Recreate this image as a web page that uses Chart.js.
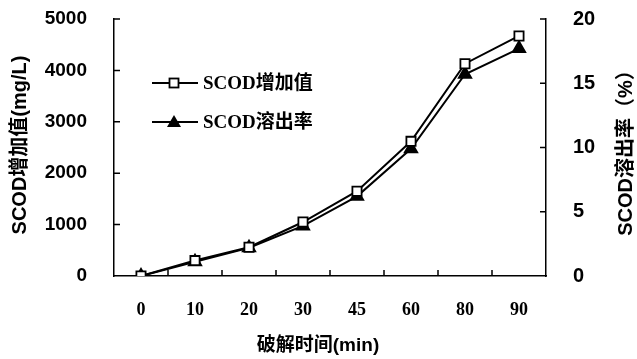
<!DOCTYPE html>
<html>
<head>
<meta charset="utf-8">
<script src="https://cdn.jsdelivr.net/npm/chart.js@4/dist/chart.umd.min.js"></script>
<style>
  html, body { margin: 0; padding: 0; background: #fff; }
  #wrap { width: 637px; height: 359px; }
</style>
</head>
<body>
<div id="wrap"><canvas id="chart" width="637" height="359"></canvas></div>
<script>
const categories = ['0', '10', '20', '30', '45', '60', '80', '90'];
const scodIncrease = [0, 300, 560, 1050, 1650, 2620, 4130, 4670];   // mg/L
const scodRate = [0, 1.1, 2.2, 3.9, 6.2, 9.9, 15.7, 17.7];          // %
const seriesNames = ['SCOD增加值', 'SCOD溶出率'];
const leftTitle = 'SCOD增加值(mg/L)';
const rightTitle = 'SCOD溶出率（%）';
const bottomTitle = '破解时间(min)';

const SANS = '"Liberation Sans", Arial, "Noto Sans CJK SC", sans-serif';
const SERIF = '"Liberation Serif", "Times New Roman", "Noto Sans CJK SC", serif';

// inward tick marks, rotated axis titles and the in-plot legend
const decorations = {
  id: 'decorations',
  afterDraw(chart) {
    const { ctx, chartArea } = chart;
    const x = chart.scales.x, y = chart.scales.y, y1 = chart.scales.y1;
    const len = 6;
    ctx.save();
    ctx.strokeStyle = '#000';
    ctx.lineWidth = 1.5;
    ctx.beginPath();
    y.ticks.forEach(t => {
      if (t.value === 0) return;
      const py = y.getPixelForValue(t.value);
      ctx.moveTo(chartArea.left, py);
      ctx.lineTo(chartArea.left + len, py);
    });
    y1.ticks.forEach(t => {
      if (t.value === 0) return;
      const py = y1.getPixelForValue(t.value);
      ctx.moveTo(chartArea.right, py);
      ctx.lineTo(chartArea.right - len, py);
    });
    for (let i = 0; i < categories.length - 1; i++) {
      const px = (x.getPixelForTick(i) + x.getPixelForTick(i + 1)) / 2;
      ctx.moveTo(px, chartArea.bottom);
      ctx.lineTo(px, chartArea.bottom - len);
    }
    ctx.stroke();

    // titles
    ctx.fillStyle = '#000';
    ctx.textAlign = 'center';
    ctx.textBaseline = 'middle';
    ctx.font = 'bold 20px ' + SANS;
    ctx.save();
    ctx.translate(20, 145);
    ctx.rotate(-Math.PI / 2);
    ctx.fillText(leftTitle, 0, 0);
    ctx.restore();
    ctx.save();
    ctx.translate(626, 148);
    ctx.rotate(-Math.PI / 2);
    ctx.fillText(rightTitle, 0, 0);
    ctx.restore();
    ctx.font = 'bold 19px ' + SANS;
    ctx.fillText(bottomTitle, 318, 346);

    // legend, in the order of seriesNames
    const lx = chartArea.left + 38, ly = [83, 122];
    seriesNames.forEach((name, i) => {
      const ds = chart.data.datasets.find(d => d.label === name);
      const yy = ly[i];
      ctx.strokeStyle = '#000';
      ctx.lineWidth = 2;
      ctx.beginPath();
      ctx.moveTo(lx, yy);
      ctx.lineTo(lx + 46, yy);
      ctx.stroke();
      const mx = lx + 22;
      if (ds.pointStyle === 'rect') {
        ctx.fillStyle = '#fff';
        ctx.fillRect(mx - 4.5, yy - 4.5, 9, 9);
        ctx.lineWidth = 1.8;
        ctx.strokeRect(mx - 4.5, yy - 4.5, 9, 9);
      } else {
        ctx.fillStyle = '#000';
        ctx.beginPath();
        ctx.moveTo(mx, yy - 7);
        ctx.lineTo(mx + 7, yy + 5);
        ctx.lineTo(mx - 7, yy + 5);
        ctx.closePath();
        ctx.fill();
      }
      ctx.fillStyle = '#000';
      ctx.textAlign = 'left';
      ctx.font = 'bold 19px ' + SERIF;
      ctx.fillText(ds.label, lx + 51, yy + 1);
    });
    ctx.restore();
  }
};

// fixed axis sizes, without the extra label-overflow padding
function fixSize(w, h) {
  return function (scale) {
    if (w) scale.width = w;
    if (h) scale.height = h;
    scale.paddingTop = 0;
    scale.paddingBottom = 0;
    scale.paddingLeft = 0;
    scale.paddingRight = 0;
  };
}

new Chart(document.getElementById('chart'), {
  type: 'line',
  data: {
    labels: categories,
    datasets: [
      {
        label: seriesNames[1],
        data: scodRate,
        yAxisID: 'y1',
        borderColor: '#000',
        borderWidth: 2,
        pointStyle: 'triangle',
        pointRadius: 7,
        pointBackgroundColor: '#000',
        pointBorderColor: '#000',
        tension: 0,
        order: 2
      },
      {
        label: seriesNames[0],
        data: scodIncrease,
        yAxisID: 'y',
        borderColor: '#000',
        borderWidth: 2,
        pointStyle: 'rect',
        pointRadius: 6.5,
        pointBorderWidth: 1.8,
        pointBackgroundColor: '#fff',
        pointBorderColor: '#000',
        tension: 0,
        order: 1
      }
    ]
  },
  options: {
    responsive: false,
    animation: false,
    devicePixelRatio: 1,
    layout: { padding: { top: 19, left: 0, right: 0, bottom: 0 } },
    plugins: {
      legend: { display: false },
      tooltip: { enabled: false }
    },
    scales: {
      x: {
        type: 'category',
        offset: true,
        grid: { display: false },
        border: { display: true, color: '#000', width: 1.5 },
        ticks: {
          color: '#000',
          padding: 16,
          maxRotation: 0,
          font: { family: SERIF, size: 18, weight: 'bold' }
        },
        afterFit: fixSize(0, 83)
      },
      y: {
        position: 'left',
        min: 0,
        max: 5000,
        grid: { display: false },
        border: { display: true, color: '#000', width: 1.5 },
        ticks: {
          stepSize: 1000,
          color: '#000',
          padding: 19,
          font: { family: SANS, size: 19, weight: 'bold' },
          callback: v => String(v)
        },
        afterFit: fixSize(114, 0)
      },
      y1: {
        position: 'right',
        min: 0,
        max: 20,
        grid: { display: false },
        border: { display: true, color: '#000', width: 1.5 },
        ticks: {
          stepSize: 5,
          color: '#000',
          padding: 19,
          font: { family: SANS, size: 20, weight: 'bold' },
          callback: v => String(v)
        },
        afterFit: fixSize(91, 0)
      }
    }
  },
  plugins: [decorations]
});
</script>
</body>
</html>
